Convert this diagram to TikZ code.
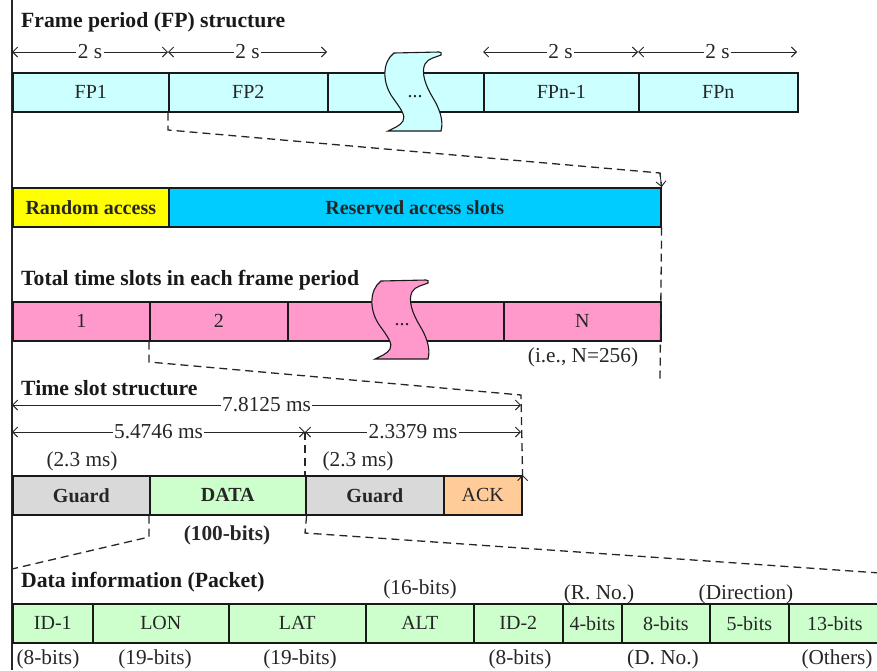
\documentclass[tikz,border=0pt]{standalone}
\usepackage{fontspec}
\setmainfont{Liberation Serif}
\usetikzlibrary{arrows.meta}
\definecolor{fpc}{HTML}{CCFFFF}
\definecolor{ylw}{HTML}{FFFF00}
\definecolor{rsv}{HTML}{00CCFF}
\definecolor{pnk}{HTML}{FF99CC}
\definecolor{gry}{HTML}{D9D9D9}
\definecolor{grn}{HTML}{CCFFCC}
\definecolor{org}{HTML}{FFCC99}
\definecolor{ink}{HTML}{262626}
\newcommand\myfh{\fontsize{21.7}{24}\selectfont\bfseries}
\newcommand\myfb{\fontsize{20}{23}\selectfont}
\newcommand\myfbb{\fontsize{20}{23}\selectfont\bfseries}
\newcommand\myfa{\fontsize{21.3}{24}\selectfont}
\tikzset{
  bx/.style={draw=black!90, line width=1.6pt, inner sep=0pt, anchor=north west,
    minimum height=39pt, font=\myfb, text=ink},
  bxb/.style={bx, font=\myfbb},
  hd/.style={anchor=west, inner sep=0pt, font=\myfh, text=black!90},
  note/.style={inner sep=0pt, font=\myfa, text=ink},
  lbl/.style={fill=white, inner sep=1.5pt, font=\myfa, text=ink},
  dim/.style={line width=0.9pt, draw=ink, <->},
  dsh/.style={line width=1.3pt, draw=black!85, dash pattern=on 8pt off 5pt},
  brk/.style={line width=1.1pt, draw=black!90}
}
\newcommand\drawbrk[4]{%
  \begin{scope}[shift={(#1,#2)}]
    \draw[brk, fill=#3] (0,0) .. controls (-12,9) and (-12,30) .. (-1,45)
      .. controls (7,56) and (12,63) .. (9,68)
      .. controls (6,73) and (0,75) .. (-6,78)
      -- (47,78)
      .. controls (50,67) and (45,55) .. (39,45)
      .. controls (31,32) and (27,19) .. (31,11)
      .. controls (34,5) and (43,4) .. (47,2)
      .. controls (48,0) and (47,-1) .. (45,-1)
      -- cycle;
    \node[font=\myfb, text=ink] (#4) at (21,44) {...};
  \end{scope}}
\begin{document}
\begin{tikzpicture}[x=1pt,y=-1pt,>={Straight Barb[length=5pt,width=10pt]}]
\useasboundingbox (0,0) rectangle (877,670);

% left rule
\coordinate (L0) at (12,0);
\coordinate (L1) at (12,670);
\draw[line width=1.2pt, black!85] (L0) -- (L1);

% ---------------- Frame period structure
\node[hd] (h1) at (21,22) {Frame period (FP) structure};
\node[bx, fill=fpc, minimum width=156pt] (fp1)  at (12,72)  {FP1};
\node[bx, fill=fpc, minimum width=159pt] (fp2)  at (168,72) {FP2};
\node[bx, fill=fpc, minimum width=156pt] (fp3)  at (327,72) {};
\node[bx, fill=fpc, minimum width=155pt] (fpn1) at (483,72) {FPn-1};
\node[bx, fill=fpc, minimum width=159pt] (fpn)  at (638,72) {FPn};
\drawbrk{394}{53}{fpc}{dots1}

\coordinate (d1) at (12,52);
\coordinate (d2) at (168,52);
\coordinate (d3) at (327,52);
\coordinate (d4) at (483,52);
\coordinate (d5) at (638,52);
\coordinate (d6) at (797,52);
\draw[dim] (d1) -- node[lbl] (w1) {2 s} (d2);
\draw[dim] (d2) -- node[lbl] (w2) {2 s} (d3);
\draw[dim] (d4) -- node[lbl] (w3) {2 s} (d5);
\draw[dim] (d5) -- node[lbl] (w4) {2 s} (d6);

% ---------------- Random / reserved access
\node[bxb, fill=ylw, minimum width=156pt] (ra) at (12,187)  {Random access};
\node[bxb, fill=rsv, minimum width=492pt] (rs) at (168,187) {Reserved access slots};

\coordinate (c1) at (168,130);
\coordinate (c2) at (660,173);
\draw[dsh] (fp2.south west) -- (c1) -- (c2) -- (rs.north east);
\draw[line width=0.9pt, draw=ink, ->] (c2) -- (rs.north east);

% ---------------- Total time slots
\node[hd] (h2) at (21,280) {Total time slots in each frame period};
\node[bx, fill=pnk, minimum width=137pt] (s1) at (12,301)  {1};
\node[bx, fill=pnk, minimum width=138pt] (s2) at (149,301) {2};
\node[bx, fill=pnk, minimum width=216pt] (s3) at (287,301) {};
\node[bx, fill=pnk, minimum width=157pt] (sn) at (503,301) {N};
\drawbrk{381}{281}{pnk}{dots2}
\node[note] (ie) at (583,357) {(i.e., N=256)};

\coordinate (v1) at (660,380);
\draw[dsh] (rs.south east) -- (v1);

% ---------------- Time slot structure
\node[hd] (h3) at (21,388) {Time slot structure};
\node[bxb, fill=gry, minimum width=137pt] (g1)   at (12,475)  {Guard};
\node[bxb, fill=grn, minimum width=156pt] (data) at (149,475) {DATA};
\node[bxb, fill=gry, minimum width=138pt] (g2)   at (305,475) {Guard};
\node[bx,  fill=org, minimum width=78pt]  (ack)  at (443,475) {ACK};

\coordinate (e1) at (12,405);
\coordinate (e2) at (521,405);
\coordinate (f1) at (12,432);
\coordinate (f2) at (305,432);
\coordinate (f3) at (521,432);
\draw[dim] (e1) -- node[lbl] (t1) {7.8125 ms} (e2);
\draw[dim] (f1) -- node[lbl] (t2) {5.4746 ms} (f2);
\draw[dim] (f2) -- node[lbl] (t3) {2.3379 ms} (f3);

\coordinate (c3) at (149,362);
\coordinate (c4) at (521,395);
\draw[dsh] (s2.south west) -- (c3) -- (c4) -- (ack.north east);
\draw[line width=0.9pt, draw=ink, ->] ([yshift=-8pt]ack.north east) -- (ack.north east);
\draw[dsh] (f2) -- (g2.north west);

\node[note] (gl1) at (82,461)  {(2.3 ms)};
\node[note] (gl2) at (358,461) {(2.3 ms)};
\node[note, font=\myfa\bfseries] (hb) at (227,535) {(100-bits)};

\coordinate (c5) at (149,537);
\coordinate (c6) at (12,569);
\coordinate (c7) at (305,533);
\coordinate (c8) at (880,573);
\draw[dsh] (data.south west) -- (c5) -- (c6);
\draw[dsh] (data.south east) -- (c7) -- (c8);

% ---------------- Data information
\node[hd] (h4) at (21,582) {Data information (Packet)};
\node[bx, fill=grn, minimum width=80pt]  (p1) at (12,603)  {ID-1};
\node[bx, fill=grn, minimum width=136pt] (p2) at (92,603)  {LON};
\node[bx, fill=grn, minimum width=137pt] (p3) at (228,603) {LAT};
\node[bx, fill=grn, minimum width=108pt] (p4) at (365,603) {ALT};
\node[bx, fill=grn, minimum width=89pt]  (p5) at (473,603) {ID-2};
\node[bx, fill=grn, minimum width=59pt]  (p6) at (562,603) {4-bits};
\node[bx, fill=grn, minimum width=88pt]  (p7) at (621,603) {8-bits};
\node[bx, fill=grn, minimum width=79pt]  (p8) at (709,603) {5-bits};
\node[bx, fill=grn, minimum width=92pt]  (p9) at (788,603) {13-bits};

\node[note] (a1) at (420,589) {(16-bits)};
\node[note] (a2) at (599,594) {(R. No.)};
\node[note] (a3) at (746,594) {(Direction)};
\node[note] (b1) at (48,659)  {(8-bits)};
\node[note] (b2) at (155,659) {(19-bits)};
\node[note] (b3) at (300,659) {(19-bits)};
\node[note] (b4) at (520,659) {(8-bits)};
\node[note] (b5) at (663,659) {(D. No.)};
\node[note] (b6) at (837,659) {(Others)};
\end{tikzpicture}
\end{document}
